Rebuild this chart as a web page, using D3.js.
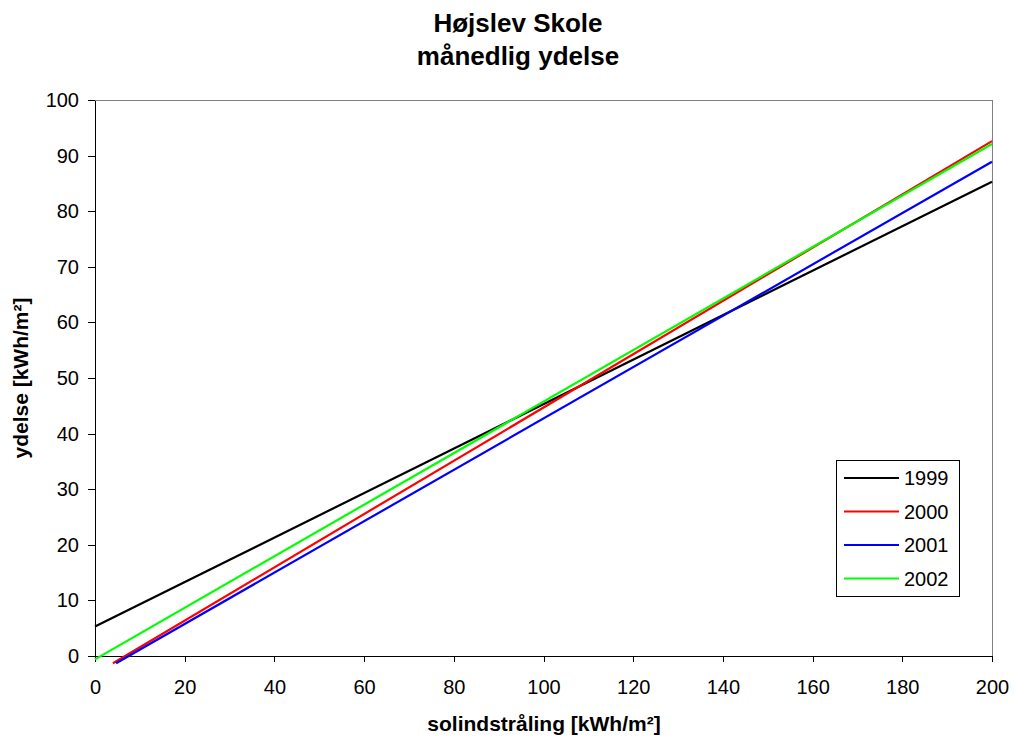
<!DOCTYPE html>
<meta charset="utf-8">
<style>
  body { margin: 0; background: #fff; font-family: "Liberation Sans", Arial, sans-serif; }
  .axis text { font-size: 20px; fill: #000; font-family: "Liberation Sans", Arial, sans-serif; }
  .axis path, .axis line { stroke: #000; shape-rendering: crispEdges; }
  .title { font-size: 26px; font-weight: bold; text-anchor: middle; }
  .axis-title { font-size: 21px; font-weight: bold; text-anchor: middle; }
  .legend text { font-size: 20px; }
</style>
<body>
<div id="chart"></div>
<script src="https://d3js.org/d3.v7.min.js"></script>
<script>
  // series: straight trend lines, read as start and end points
  var years = ["1999", "2000", "2001", "2002"];
  var colors = ["#000000", "#ff0000", "#0000ff", "#00ff00"];
  var startX = [0, 4.0, 4.7, 0];
  var startY = [5.3, -1.3, -1.3, -0.6];
  var endX = [200, 200, 200, 200];
  var endY = [85.3, 92.6, 88.9, 92.1];
  var xTicks = [0, 20, 40, 60, 80, 100, 120, 140, 160, 180, 200];
  var yTicks = [0, 10, 20, 30, 40, 50, 60, 70, 80, 90, 100];

  var margin = { top: 100, right: 22, bottom: 84, left: 95 };
  var W = 1014, H = 740;
  var width = W - margin.left - margin.right,
      height = H - margin.top - margin.bottom;

  var svg = d3.select("#chart").append("svg")
    .attr("width", W)
    .attr("height", H);

  var g = svg.append("g")
    .attr("transform", "translate(" + margin.left + "," + margin.top + ")");

  var x = d3.scaleLinear().domain([0, 200]).range([0, width]);
  var y = d3.scaleLinear().domain([0, 100]).range([height, 0]);

  // plot frame (top/right gray)
  g.append("path")
    .attr("d", "M0,0H" + width + "V" + height)
    .attr("fill", "none")
    .attr("stroke", "#808080")
    .attr("shape-rendering", "crispEdges");

  g.append("g")
    .attr("class", "x axis")
    .attr("transform", "translate(0," + height + ")")
    .call(d3.axisBottom(x).tickValues(xTicks).tickSize(6).tickSizeOuter(0).tickPadding(18));

  g.append("g")
    .attr("class", "y axis")
    .call(d3.axisLeft(y).tickValues(yTicks).tickSize(7).tickSizeOuter(0).tickPadding(9));

  // lines
  var lineData = years.map(function(yr, i) {
    return { year: yr, color: colors[i],
      pts: [[startX[i], startY[i]], [endX[i], endY[i]]] };
  });

  var line = d3.line()
    .x(function(d) { return x(d[0]); })
    .y(function(d) { return y(d[1]); });

  g.selectAll("path.series")
    .data(lineData)
    .enter().append("path")
    .attr("class", "series")
    .attr("d", function(d) { return line(d.pts); })
    .attr("fill", "none")
    .attr("stroke", function(d) { return d.color; })
    .attr("stroke-width", 2.2);

  // titles
  svg.append("text").attr("class", "title").attr("x", 518).attr("y", 32).text("Højslev Skole");
  svg.append("text").attr("class", "title").attr("x", 518).attr("y", 65).text("månedlig ydelse");
  svg.append("text").attr("class", "axis-title").attr("x", 544).attr("y", 731).text("solindstråling [kWh/m²]");
  svg.append("text").attr("class", "axis-title")
    .attr("transform", "translate(28," + (margin.top + height / 2) + ") rotate(-90)")
    .text("ydelse [kWh/m²]");

  // legend
  var legend = svg.append("g").attr("class", "legend")
    .attr("transform", "translate(836,460)");

  legend.append("rect")
    .attr("width", 123).attr("height", 136)
    .attr("fill", "#fff").attr("stroke", "#000")
    .attr("shape-rendering", "crispEdges");

  var item = legend.selectAll("g.item")
    .data(lineData)
    .enter().append("g")
    .attr("class", "item")
    .attr("transform", function(d, i) { return "translate(0," + (18 + i * 33.5) + ")"; });

  item.append("line")
    .attr("x1", 8).attr("x2", 63)
    .attr("stroke", function(d) { return d.color; })
    .attr("stroke-width", 2.2);

  item.append("text")
    .attr("x", 68).attr("dy", "0.35em")
    .text(function(d) { return d.year; });
</script>
</body>
